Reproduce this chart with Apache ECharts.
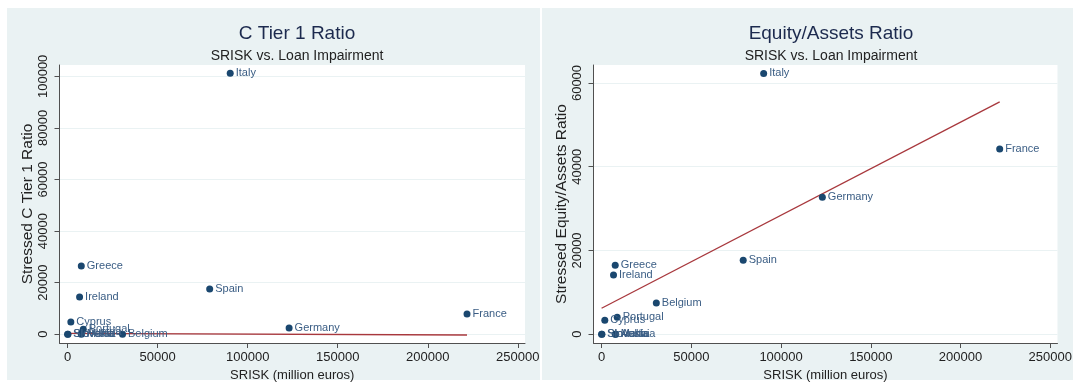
<!DOCTYPE html>
<html>
<head>
<meta charset="utf-8">
<script src="https://cdn.jsdelivr.net/npm/echarts@6/dist/echarts.min.js"></script>
<style>
  html, body { margin: 0; padding: 0; background: #ffffff; }
  #chart { width: 1075px; height: 391px; }
</style>
</head>
<body>
<div id="chart"></div>
<script>
// Eurozone countries: SRISK against stressed loan-impairment measures
const countries = ['Austria', 'Belgium', 'Cyprus', 'France', 'Germany', 'Greece', 'Ireland',
                   'Italy', 'Malta', 'Portugal', 'Slovakia', 'Slovenia', 'Spain'];
const srisk = [7900, 30500, 1800, 221800, 123000, 7600, 6650,
               90300, 7600, 8700, 0, 200, 78900];
const stressedTier1 = [700, 0, 4770, 7870, 2440, 26470, 14460,
                       101160, 0, 1940, 0, 0, 17560];
const stressedEquityAssets = [0, 7470, 3340, 44220, 32700, 16470, 14150,
                              62290, 0, 4060, 0, 0, 17660];

// Fitted lines (endpoints at the smallest and largest SRISK)
const fitX = [0, 221800];
const fitTier1Y = [350, -300];
const fitEquityY = [6200, 55500];

// Axis tick labels
const xTicks = [0, 50000, 100000, 150000, 200000, 250000];
const tier1Ticks = [0, 20000, 40000, 60000, 80000, 100000];
const equityTicks = [0, 20000, 40000, 60000];

const FONT = 'Liberation Sans, Arial, sans-serif';
const NAVY = '#1a476f';
const FIT = '#a8383d';
const PANEL = '#eaf2f3';
const AXIS = '#505050';
const TEXT = '#222222';
const plain = v => String(v);

function points(values) {
  return countries.map((c, i) => ({ name: c, value: [srisk[i], values[i]] }));
}
function fitLine(ys) {
  return fitX.map((x, i) => [x, ys[i]]);
}

function xAxisOpt(gridIndex) {
  return {
    gridIndex,
    type: 'value',
    min: -4500,
    max: 254000,
    name: 'SRISK (million euros)',
    nameLocation: 'middle',
    nameGap: 22,
    nameTextStyle: { fontFamily: FONT, fontSize: 13, color: TEXT },
    axisLine: { show: true, onZero: false, lineStyle: { color: AXIS, width: 1 } },
    axisTick: { show: true, length: 5, customValues: xTicks, lineStyle: { color: AXIS } },
    axisLabel: { customValues: xTicks, formatter: plain, margin: 8, fontFamily: FONT, fontSize: 13, color: TEXT },
    splitLine: { show: false }
  };
}
function yAxisOpt(gridIndex, title, min, max, ticks) {
  return {
    gridIndex,
    type: 'value',
    min, max,
    name: title,
    nameLocation: 'middle',
    nameGap: 24,
    nameTextStyle: { fontFamily: FONT, fontSize: 15.5, color: TEXT },
    axisLine: { show: true, onZero: false, lineStyle: { color: AXIS, width: 1 } },
    axisTick: { show: true, length: 5, customValues: ticks, lineStyle: { color: AXIS } },
    axisLabel: { customValues: ticks, formatter: plain, rotate: 90, margin: 10, fontFamily: FONT, fontSize: 13, color: TEXT },
    splitLine: { show: true, lineStyle: { color: PANEL, width: 1.2 } }
  };
}
function scatterOpt(idx, values) {
  return {
    type: 'scatter',
    xAxisIndex: idx, yAxisIndex: idx,
    symbolSize: 7,
    itemStyle: { color: NAVY, opacity: 1 },
    label: {
      show: true, position: 'right', distance: 2,
      formatter: '{b}', fontFamily: FONT, fontSize: 11, color: '#3a5d84'
    },
    data: points(values),
    z: 3
  };
}
function lineOpt(idx, ys) {
  return {
    type: 'line',
    xAxisIndex: idx, yAxisIndex: idx,
    showSymbol: false,
    lineStyle: { color: FIT, width: 1.3 },
    data: fitLine(ys),
    z: 2
  };
}

const chart = echarts.init(document.getElementById('chart'), null, { renderer: 'canvas' });
chart.setOption({
  animation: false,
  backgroundColor: '#ffffff',
  graphic: [
    { type: 'rect', z: -10, shape: { x: 7, y: 8, width: 533, height: 372 }, style: { fill: PANEL } },
    { type: 'rect', z: -10, shape: { x: 542, y: 8, width: 531, height: 372 }, style: { fill: PANEL } }
  ],
  title: [
    { text: 'C Tier 1 Ratio', left: 292, top: 19, textAlign: 'center',
      textStyle: { fontFamily: FONT, fontSize: 19, fontWeight: 'normal', color: '#1c2a4e' } },
    { text: 'SRISK vs. Loan Impairment', left: 292, top: 44, textAlign: 'center',
      textStyle: { fontFamily: FONT, fontSize: 14, fontWeight: 'normal', color: TEXT } },
    { text: 'Equity/Assets Ratio', left: 826, top: 19, textAlign: 'center',
      textStyle: { fontFamily: FONT, fontSize: 19, fontWeight: 'normal', color: '#1c2a4e' } },
    { text: 'SRISK vs. Loan Impairment', left: 826, top: 44, textAlign: 'center',
      textStyle: { fontFamily: FONT, fontSize: 14, fontWeight: 'normal', color: TEXT } }
  ],
  grid: [
    { left: 59.5, top: 65, width: 465.5, height: 278, show: true, backgroundColor: '#ffffff', borderWidth: 0 },
    { left: 593.5, top: 65, width: 465.7, height: 278, show: true, backgroundColor: '#ffffff', borderWidth: 0 }
  ],
  xAxis: [xAxisOpt(0), xAxisOpt(1)],
  yAxis: [
    yAxisOpt(0, 'Stressed C Tier 1 Ratio', -3400, 104400, tier1Ticks),
    yAxisOpt(1, 'Stressed Equity/Assets Ratio', -2100, 64300, equityTicks)
  ],
  series: [
    lineOpt(0, fitTier1Y),
    scatterOpt(0, stressedTier1),
    lineOpt(1, fitEquityY),
    scatterOpt(1, stressedEquityAssets)
  ]
});
</script>
</body>
</html>
